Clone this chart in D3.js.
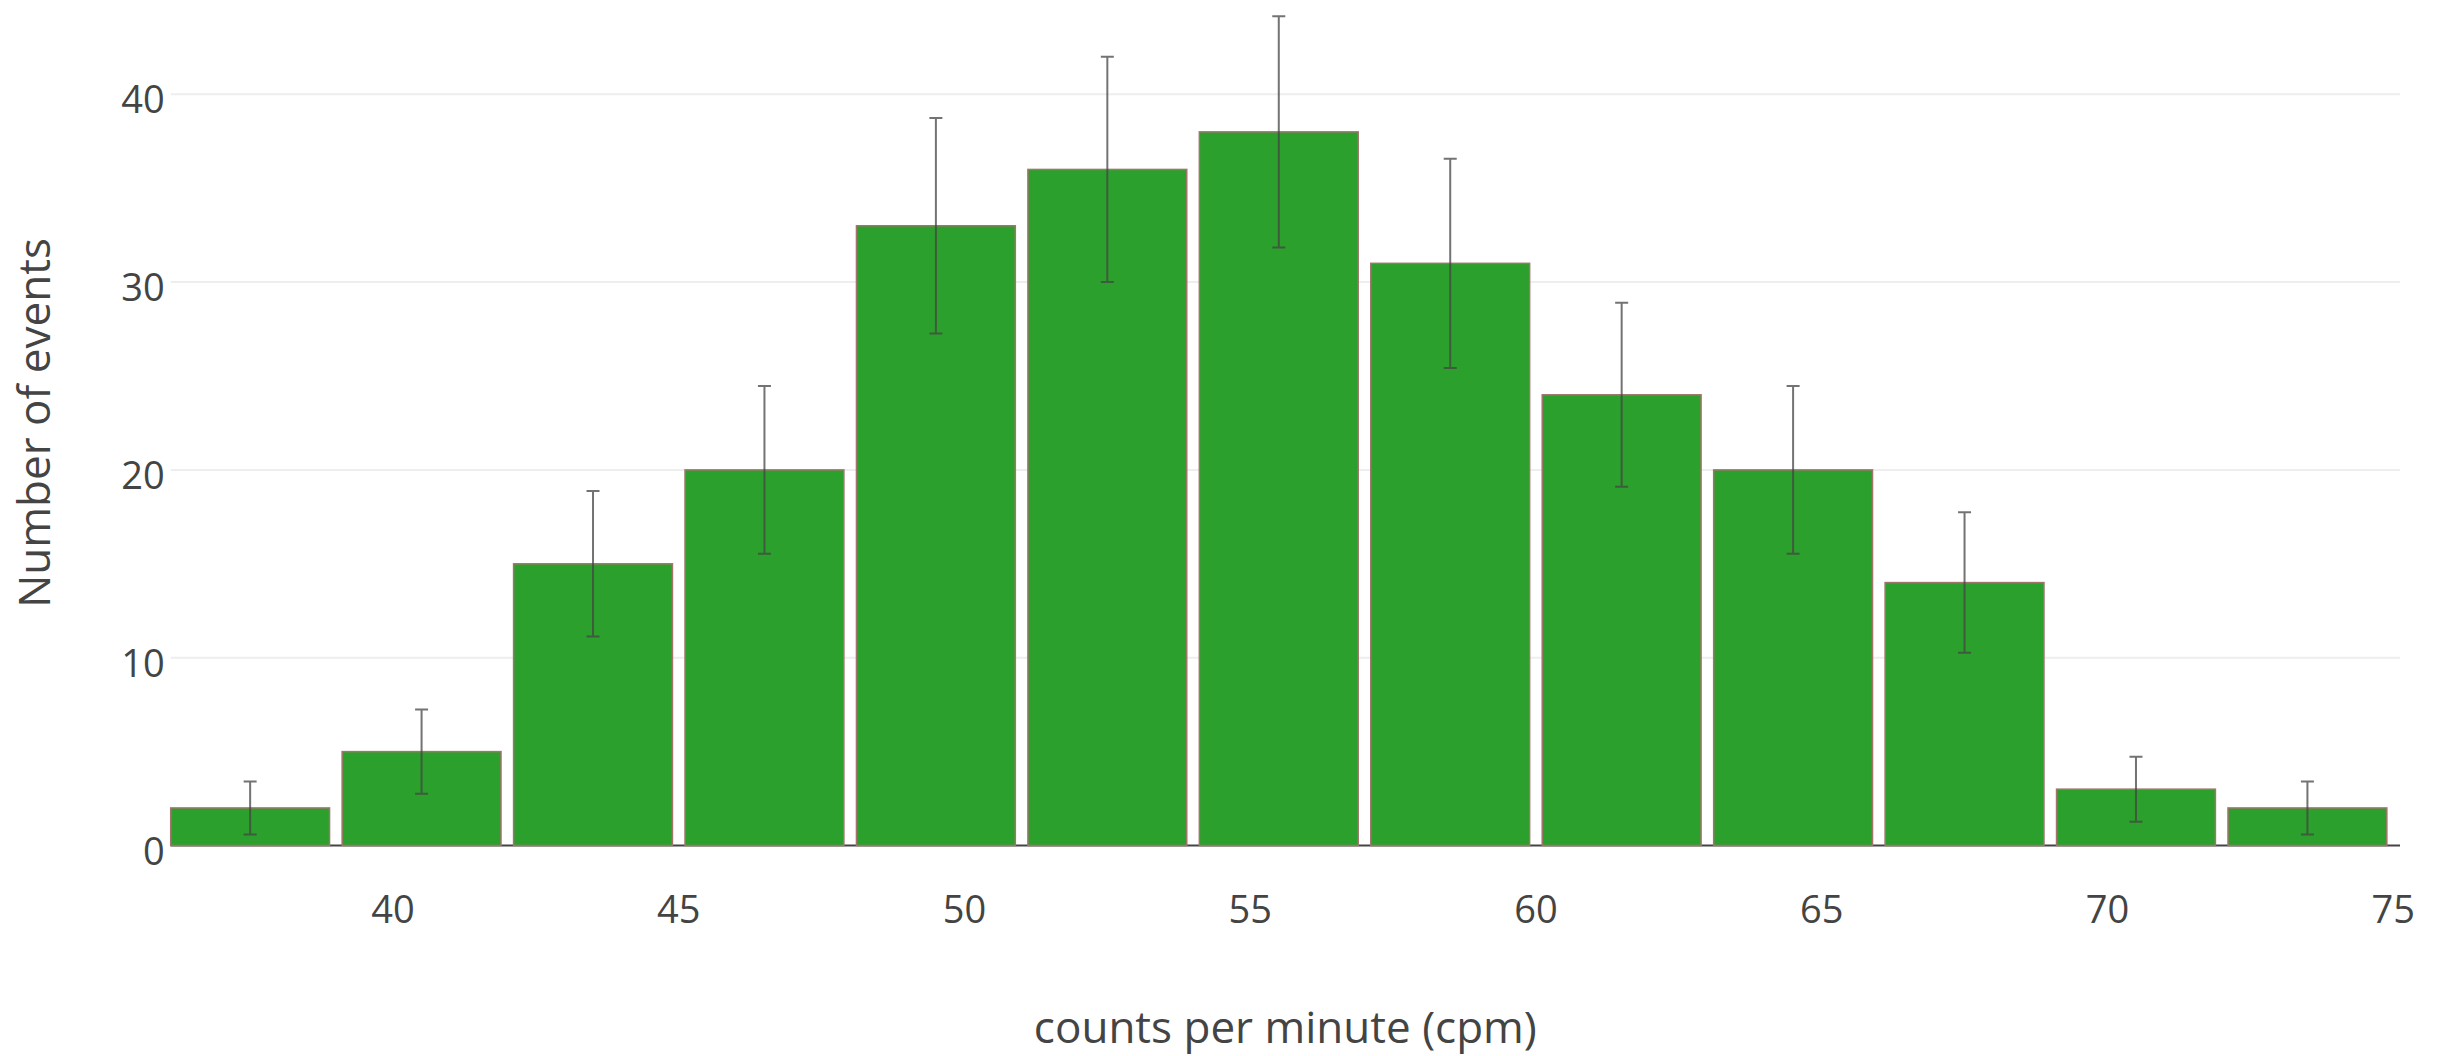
<!DOCTYPE html>
<html>
<head>
<meta charset="utf-8">
<script src="https://cdn.jsdelivr.net/npm/d3@7"></script>
<style>
  html, body { margin: 0; padding: 0; background: #fff; }
  svg { display: block; font-family: "Open Sans", sans-serif; }
</style>
</head>
<body>
<svg id="chart" width="2443" height="1056"></svg>
<script>
// Histogram of counts per minute, 3 cpm wide bins
const binLow  = [36, 39, 42, 45, 48, 51, 54, 57, 60, 63, 66, 69, 72];
const binHigh = [39, 42, 45, 48, 51, 54, 57, 60, 63, 66, 69, 72, 75];
const counts  = [2, 5, 15, 20, 33, 36, 38, 31, 24, 20, 14, 3, 2];
const errors  = [1.41, 2.24, 3.87, 4.47, 5.74, 6.00, 6.16, 5.57, 4.90, 4.47, 3.74, 1.73, 1.41];
const xTicks  = [40, 45, 50, 55, 60, 65, 70, 75];
const yTicks  = [0, 10, 20, 30, 40];
const xTitle  = "counts per minute (cpm)";
const yTitle  = "Number of events";

const svg = d3.select("#chart");
const plotLeft = 170.7, plotRight = 2400, plotTop = 0.4, plotBottom = 845.5;

const x = d3.scaleLinear().domain([36.11, 75.12]).range([plotLeft, plotRight]);
const y = d3.scaleLinear().domain([0, 45]).range([plotBottom, plotTop]);

const inset = 0.11;   // half of the gap between neighbouring bars, in cpm

// horizontal grid
svg.append("g")
  .selectAll("line")
  .data(yTicks.filter(d => d !== 0))
  .join("line")
  .attr("x1", plotLeft).attr("x2", plotRight)
  .attr("y1", d => y(d)).attr("y2", d => y(d))
  .attr("stroke", "#eeeeee").attr("stroke-width", 2);

// y tick labels
svg.append("g")
  .selectAll("text")
  .data(yTicks)
  .join("text")
  .attr("x", plotLeft - 6)
  .attr("y", d => y(d) + 19)
  .attr("text-anchor", "end")
  .attr("font-size", 38)
  .attr("fill", "#444")
  .text(d => d);

// x tick labels
svg.append("g")
  .selectAll("text")
  .data(xTicks)
  .join("text")
  .attr("x", d => x(d))
  .attr("y", 923)
  .attr("text-anchor", "middle")
  .attr("font-size", 38)
  .attr("fill", "#444")
  .text(d => d);

// zero line
svg.append("line")
  .attr("x1", plotLeft).attr("x2", plotRight)
  .attr("y1", y(0)).attr("y2", y(0))
  .attr("stroke", "#444").attr("stroke-width", 2);

// bars
svg.append("g")
  .selectAll("rect")
  .data(counts)
  .join("rect")
  .attr("x", (d, i) => x(binLow[i] + inset))
  .attr("width", (d, i) => x(binHigh[i] - inset) - x(binLow[i] + inset))
  .attr("y", d => y(d))
  .attr("height", d => y(0) - y(d))
  .attr("fill", "#2ca02c")
  .attr("stroke", "#a0756a")
  .attr("stroke-width", 1.5);

// error bars
const eb = svg.append("g")
  .attr("stroke", "#444")
  .attr("stroke-opacity", 0.75)
  .attr("stroke-width", 2)
  .attr("fill", "none");
const cap = 6.5;
counts.forEach((c, i) => {
  const cx = x((binLow[i] + binHigh[i]) / 2);
  const y0 = y(c - errors[i]), y1 = y(c + errors[i]);
  eb.append("path")
    .attr("d", `M${cx},${y0}V${y1}M${cx - cap},${y1}H${cx + cap}M${cx - cap},${y0}H${cx + cap}`);
});

// axis titles
svg.append("text")
  .attr("x", (plotLeft + plotRight) / 2)
  .attr("y", 1043)
  .attr("text-anchor", "middle")
  .attr("font-size", 44)
  .attr("fill", "#444")
  .text(xTitle);

svg.append("text")
  .attr("transform", `translate(50,${(plotTop + plotBottom) / 2}) rotate(-90)`)
  .attr("text-anchor", "middle")
  .attr("font-size", 44)
  .attr("fill", "#444")
  .text(yTitle);
</script>
</body>
</html>
